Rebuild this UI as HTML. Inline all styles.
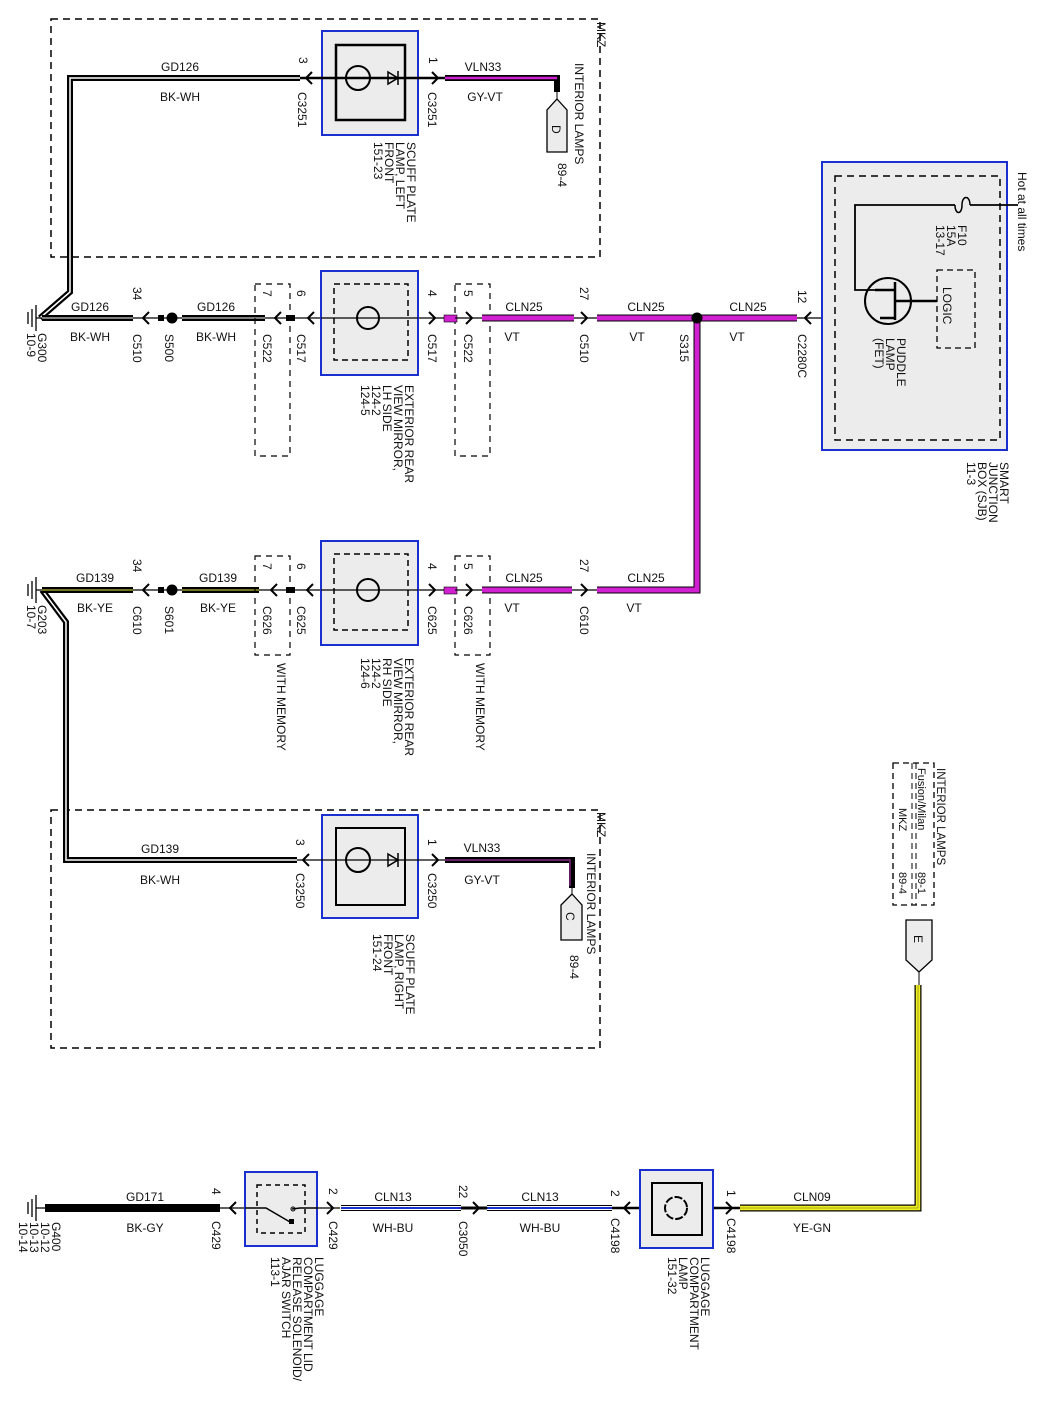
<!DOCTYPE html>
<html><head><meta charset="utf-8"><style>
html,body{margin:0;padding:0;background:#fff}
svg{display:block}
text{font-family:"Liberation Sans",sans-serif;font-size:12px;fill:#111}
</style></head><body>
<svg width="1039" height="1415" viewBox="0 0 1039 1415" xmlns="http://www.w3.org/2000/svg">
<defs>
<g id="al"><path d="M6,-6 L0,0 L6,6" fill="none" stroke="#000" stroke-width="2"/></g>
<g id="ar"><path d="M-6,-6 L0,0 L-6,6" fill="none" stroke="#000" stroke-width="2"/></g>
</defs>

<!-- dashed MKZ boxes -->
<rect x="51" y="19" width="549" height="238" fill="none" stroke="#000" stroke-width="1.5" stroke-dasharray="7,5"/>
<rect x="51" y="810" width="549" height="238" fill="none" stroke="#000" stroke-width="1.5" stroke-dasharray="7,5"/>

<!-- ===== TOP SCUFF LEFT ===== -->
<path d="M300,78 L70,78 L70,292 L40,318" fill="none" stroke="#000" stroke-width="6"/>
<path d="M300,78 L70,78 L70,292 L40,318" fill="none" stroke="#fff" stroke-width="1.5"/>
<rect x="322" y="31" width="96" height="104" fill="#ececec" stroke="#1a2fd0" stroke-width="2"/>
<rect x="336" y="45" width="69" height="75" fill="none" stroke="#000" stroke-width="2.5"/>
<line x1="300" y1="78" x2="445" y2="78" stroke="#000" stroke-width="2.5"/>
<circle cx="358" cy="78" r="12" fill="none" stroke="#000" stroke-width="2"/>
<path d="M388,72 L398,78 L388,84 Z M398,71 L398,85" fill="none" stroke="#000" stroke-width="1.5"/>
<use href="#al" x="306" y="78"/><use href="#ar" x="438" y="78"/>
<path d="M445,78 L557,78 L557,92" fill="none" stroke="#000" stroke-width="6"/>
<path d="M445,78 L557,78" stroke="#d020d0" stroke-width="2.5"/>
<line x1="557" y1="92" x2="557" y2="100" stroke="#000" stroke-width="1"/>
<path d="M557,99 L567,110 L567,152 L547,152 L547,110 Z" fill="#ececec" stroke="#000" stroke-width="1.3"/>
<text transform="translate(552,125) rotate(90)">D</text>
<text x="483" y="71" text-anchor="middle">VLN33</text>
<text x="485" y="101" text-anchor="middle">GY-VT</text>
<text x="180" y="71" text-anchor="middle">GD126</text>
<text x="180" y="101" text-anchor="middle">BK-WH</text>
<text transform="translate(299,57) rotate(90)">3</text>
<text transform="translate(298,92) rotate(90)">C3251</text>
<text transform="translate(429,57) rotate(90)">1</text>
<text transform="translate(428,92) rotate(90)">C3251</text>
<text transform="translate(407,142) rotate(90)"><tspan x="0" y="0">SCUFF PLATE</tspan><tspan x="0" y="11">LAMP, LEFT</tspan><tspan x="0" y="22">FRONT</tspan><tspan x="0" y="33">151-23</tspan></text>
<text transform="translate(575,63) rotate(90)">INTERIOR LAMPS</text>
<text transform="translate(558,163) rotate(90)">89-4</text>
<text transform="translate(597,22) rotate(90)">MKZ</text>

<!-- ===== ROW 1 (y=318) ===== -->
<path d="M28,312 L28,324 M32,309 L32,327 M36,305 L36,331 M36,318 L42,318" stroke="#000" stroke-width="1.3" fill="none"/>
<line x1="42" y1="318" x2="133" y2="318" stroke="#000" stroke-width="6"/>
<line x1="42" y1="318" x2="133" y2="318" stroke="#fff" stroke-width="1"/>
<line x1="133" y1="318" x2="182" y2="318" stroke="#000" stroke-width="1.3"/>
<use href="#al" x="143" y="318"/>
<rect x="158" y="315" width="6" height="6" fill="#000"/>
<circle cx="172" cy="318" r="5.5" fill="#000"/>
<line x1="182" y1="318" x2="265" y2="318" stroke="#000" stroke-width="6"/>
<line x1="182" y1="318" x2="265" y2="318" stroke="#fff" stroke-width="1"/>
<rect x="255" y="284" width="35" height="172" fill="none" stroke="#000" stroke-width="1.2" stroke-dasharray="6,5"/>
<rect x="455" y="284" width="35" height="172" fill="none" stroke="#000" stroke-width="1.2" stroke-dasharray="6,5"/>
<line x1="265" y1="318" x2="445" y2="318" stroke="#000" stroke-width="1.3"/>
<use href="#al" x="275" y="318"/>
<rect x="286" y="315" width="9" height="6" fill="#000"/>
<use href="#al" x="308" y="318"/>
<rect x="321" y="271" width="97" height="104" fill="#ececec" stroke="#1a2fd0" stroke-width="2"/>
<rect x="334" y="284" width="74" height="76" fill="none" stroke="#000" stroke-width="1.5" stroke-dasharray="6,4"/>
<line x1="321" y1="318" x2="418" y2="318" stroke="#000" stroke-width="1.3"/>
<circle cx="368" cy="318" r="11" fill="none" stroke="#000" stroke-width="2"/>
<use href="#ar" x="435" y="318"/>
<rect x="444" y="315" width="13" height="7" fill="#d020d0" stroke="#000" stroke-width="0.6"/>
<line x1="455" y1="318" x2="482" y2="318" stroke="#000" stroke-width="1.3"/>
<use href="#ar" x="472" y="318"/>
<line x1="482" y1="318" x2="574" y2="318" stroke="#000" stroke-width="7"/>
<line x1="482" y1="318" x2="574" y2="318" stroke="#d020d0" stroke-width="5"/>
<line x1="574" y1="318" x2="597" y2="318" stroke="#000" stroke-width="1.3"/>
<use href="#ar" x="587" y="318"/>
<path d="M597,318 L697,318 L697,590 L597,590" fill="none" stroke="#000" stroke-width="7"/>
<path d="M597,318 L697,318 L697,590 L597,590" fill="none" stroke="#d020d0" stroke-width="5"/>
<line x1="697" y1="318" x2="797" y2="318" stroke="#000" stroke-width="7"/>
<line x1="697" y1="318" x2="797" y2="318" stroke="#d020d0" stroke-width="5"/>
<circle cx="697" cy="318" r="5.5" fill="#000"/>
<line x1="797" y1="318" x2="880" y2="318" stroke="#000" stroke-width="1.3"/>
<use href="#al" x="805" y="318"/>
<text x="90" y="311" text-anchor="middle">GD126</text>
<text x="90" y="341" text-anchor="middle">BK-WH</text>
<text x="216" y="311" text-anchor="middle">GD126</text>
<text x="216" y="341" text-anchor="middle">BK-WH</text>
<text x="524" y="311" text-anchor="middle">CLN25</text>
<text x="512" y="341" text-anchor="middle">VT</text>
<text x="646" y="311" text-anchor="middle">CLN25</text>
<text x="637" y="341" text-anchor="middle">VT</text>
<text x="748" y="311" text-anchor="middle">CLN25</text>
<text x="737" y="341" text-anchor="middle">VT</text>
<text transform="translate(38,333) rotate(90)"><tspan x="0" y="0">G300</tspan><tspan x="0" y="11">10-9</tspan></text>
<text transform="translate(133,287) rotate(90)">34</text>
<text transform="translate(133,334) rotate(90)">C510</text>
<text transform="translate(165,334) rotate(90)">S500</text>
<text transform="translate(263,290) rotate(90)">7</text>
<text transform="translate(263,334) rotate(90)">C522</text>
<text transform="translate(297,290) rotate(90)">6</text>
<text transform="translate(297,334) rotate(90)">C517</text>
<text transform="translate(405,385) rotate(90)"><tspan x="0" y="0">EXTERIOR REAR</tspan><tspan x="0" y="11">VIEW MIRROR,</tspan><tspan x="0" y="22">LH SIDE</tspan><tspan x="0" y="33">124-2</tspan><tspan x="0" y="44">124-5</tspan></text>
<text transform="translate(428,290) rotate(90)">4</text>
<text transform="translate(428,334) rotate(90)">C517</text>
<text transform="translate(464,290) rotate(90)">5</text>
<text transform="translate(464,334) rotate(90)">C522</text>
<text transform="translate(580,287) rotate(90)">27</text>
<text transform="translate(580,334) rotate(90)">C510</text>
<text transform="translate(680,334) rotate(90)">S315</text>
<text transform="translate(798,290) rotate(90)">12</text>
<text transform="translate(798,334) rotate(90)">C2280C</text>

<!-- ===== SJB ===== -->
<rect x="822" y="162" width="185" height="288" fill="#ececec" stroke="#1a2fd0" stroke-width="2"/>
<rect x="835" y="176" width="165" height="264" fill="none" stroke="#000" stroke-width="1.5" stroke-dasharray="7,5"/>
<path d="M1018,205 L970,205 M955,205 L855,205 L855,290 L875,290" fill="none" stroke="#000" stroke-width="1.8"/>
<path d="M970,205 C970,195 962,195 962,205 C962,215 955,215 955,205" fill="none" stroke="#000" stroke-width="1.5"/>
<circle cx="888" cy="301" r="23" fill="none" stroke="#000" stroke-width="2"/>
<path d="M875,290 L895,290 M880,318 L895,318 M895,282 L895,320 M895,301 L937,301" fill="none" stroke="#000" stroke-width="2.5"/>
<rect x="937" y="270" width="38" height="78" fill="none" stroke="#000" stroke-width="1.3" stroke-dasharray="6,4"/>
<text transform="translate(943,287) rotate(90)">LOGIC</text>
<text transform="translate(958,225) rotate(90)"><tspan x="0" y="0">F10</tspan><tspan x="0" y="11">15A</tspan><tspan x="0" y="22">13-17</tspan></text>
<text transform="translate(897,338) rotate(90)"><tspan x="0" y="0">PUDDLE</tspan><tspan x="0" y="11">LAMP</tspan><tspan x="0" y="22">(FET)</tspan></text>
<text transform="translate(1018,172) rotate(90)">Hot at all times</text>
<text transform="translate(1000,462) rotate(90)"><tspan x="0" y="0">SMART</tspan><tspan x="0" y="11">JUNCTION</tspan><tspan x="0" y="22">BOX (SJB)</tspan><tspan x="0" y="33">11-3</tspan></text>

<!-- ===== ROW 2 (y=590) ===== -->
<path d="M28,584 L28,596 M32,581 L32,599 M36,577 L36,603 M36,590 L42,590" stroke="#000" stroke-width="1.3" fill="none"/>
<path d="M42,590 L66,622 L66,860 L297,860" fill="none" stroke="#000" stroke-width="6"/>
<path d="M42,590 L66,622 L66,860 L297,860" fill="none" stroke="#fff" stroke-width="1.5"/>
<line x1="42" y1="590" x2="133" y2="590" stroke="#000" stroke-width="6"/>
<line x1="42" y1="590" x2="133" y2="590" stroke="#e8e840" stroke-width="1"/>
<line x1="133" y1="590" x2="182" y2="590" stroke="#000" stroke-width="1.3"/>
<use href="#al" x="143" y="590"/>
<rect x="158" y="587" width="6" height="6" fill="#000"/>
<circle cx="172" cy="590" r="5.5" fill="#000"/>
<line x1="182" y1="590" x2="259" y2="590" stroke="#000" stroke-width="6"/>
<line x1="182" y1="590" x2="259" y2="590" stroke="#e8e840" stroke-width="1"/>
<rect x="255" y="556" width="35" height="99" fill="none" stroke="#000" stroke-width="1.2" stroke-dasharray="6,5"/>
<rect x="455" y="556" width="35" height="99" fill="none" stroke="#000" stroke-width="1.2" stroke-dasharray="6,5"/>
<line x1="259" y1="590" x2="445" y2="590" stroke="#000" stroke-width="1.3"/>
<use href="#al" x="271" y="590"/>
<rect x="286" y="587" width="9" height="6" fill="#000"/>
<use href="#al" x="307" y="590"/>
<rect x="321" y="541" width="97" height="104" fill="#ececec" stroke="#1a2fd0" stroke-width="2"/>
<rect x="334" y="554" width="74" height="76" fill="none" stroke="#000" stroke-width="1.5" stroke-dasharray="6,4"/>
<line x1="321" y1="590" x2="418" y2="590" stroke="#000" stroke-width="1.3"/>
<circle cx="368" cy="590" r="11" fill="none" stroke="#000" stroke-width="2"/>
<use href="#ar" x="435" y="590"/>
<rect x="444" y="587" width="13" height="7" fill="#d020d0" stroke="#000" stroke-width="0.6"/>
<line x1="455" y1="590" x2="482" y2="590" stroke="#000" stroke-width="1.3"/>
<use href="#ar" x="472" y="590"/>
<line x1="482" y1="590" x2="572" y2="590" stroke="#000" stroke-width="7"/>
<line x1="482" y1="590" x2="572" y2="590" stroke="#d020d0" stroke-width="5"/>
<line x1="572" y1="590" x2="597" y2="590" stroke="#000" stroke-width="1.3"/>
<use href="#ar" x="587" y="590"/>
<text x="95" y="582" text-anchor="middle">GD139</text>
<text x="95" y="612" text-anchor="middle">BK-YE</text>
<text x="218" y="582" text-anchor="middle">GD139</text>
<text x="218" y="612" text-anchor="middle">BK-YE</text>
<text x="524" y="582" text-anchor="middle">CLN25</text>
<text x="512" y="612" text-anchor="middle">VT</text>
<text x="646" y="582" text-anchor="middle">CLN25</text>
<text x="634" y="612" text-anchor="middle">VT</text>
<text transform="translate(38,605) rotate(90)"><tspan x="0" y="0">G203</tspan><tspan x="0" y="11">10-7</tspan></text>
<text transform="translate(133,559) rotate(90)">34</text>
<text transform="translate(133,606) rotate(90)">C610</text>
<text transform="translate(165,606) rotate(90)">S601</text>
<text transform="translate(263,563) rotate(90)">7</text>
<text transform="translate(263,606) rotate(90)">C626</text>
<text transform="translate(297,563) rotate(90)">6</text>
<text transform="translate(297,606) rotate(90)">C625</text>
<text transform="translate(405,658) rotate(90)"><tspan x="0" y="0">EXTERIOR REAR</tspan><tspan x="0" y="11">VIEW MIRROR,</tspan><tspan x="0" y="22">RH SIDE</tspan><tspan x="0" y="33">124-2</tspan><tspan x="0" y="44">124-6</tspan></text>
<text transform="translate(428,563) rotate(90)">4</text>
<text transform="translate(428,606) rotate(90)">C625</text>
<text transform="translate(464,563) rotate(90)">5</text>
<text transform="translate(464,606) rotate(90)">C626</text>
<text transform="translate(580,559) rotate(90)">27</text>
<text transform="translate(580,606) rotate(90)">C610</text>
<text transform="translate(277,663) rotate(90)">WITH MEMORY</text>
<text transform="translate(476,663) rotate(90)">WITH MEMORY</text>

<!-- ===== BOTTOM SCUFF RIGHT ===== -->
<rect x="322" y="815" width="96" height="103" fill="#ececec" stroke="#1a2fd0" stroke-width="2"/>
<rect x="336" y="828" width="69" height="77" fill="none" stroke="#000" stroke-width="2"/>
<line x1="297" y1="860" x2="445" y2="860" stroke="#000" stroke-width="1.3"/>
<circle cx="358" cy="860" r="12" fill="none" stroke="#000" stroke-width="2"/>
<path d="M388,854 L398,860 L388,866 Z M398,853 L398,867" fill="none" stroke="#000" stroke-width="1.5"/>
<use href="#al" x="303" y="860"/><use href="#ar" x="438" y="860"/>
<path d="M445,860 L572,860 L572,888" fill="none" stroke="#000" stroke-width="6"/>
<path d="M445,860 L570,860 L570,886" fill="none" stroke="#a030a0" stroke-width="1.2"/>
<line x1="572" y1="888" x2="572" y2="895" stroke="#000" stroke-width="1"/>
<path d="M572,894 L582,905 L582,940 L561,940 L561,905 Z" fill="#ececec" stroke="#000" stroke-width="1.3"/>
<text transform="translate(566,912) rotate(90)">C</text>
<text x="160" y="853" text-anchor="middle">GD139</text>
<text x="160" y="884" text-anchor="middle">BK-WH</text>
<text x="482" y="852" text-anchor="middle">VLN33</text>
<text x="482" y="884" text-anchor="middle">GY-VT</text>
<text transform="translate(296,839) rotate(90)">3</text>
<text transform="translate(296,873) rotate(90)">C3250</text>
<text transform="translate(428,839) rotate(90)">1</text>
<text transform="translate(428,873) rotate(90)">C3250</text>
<text transform="translate(406,934) rotate(90)"><tspan x="0" y="0">SCUFF PLATE</tspan><tspan x="0" y="11">LAMP, RIGHT</tspan><tspan x="0" y="22">FRONT</tspan><tspan x="0" y="33">151-24</tspan></text>
<text transform="translate(587,853) rotate(90)">INTERIOR LAMPS</text>
<text transform="translate(570,955) rotate(90)">89-4</text>
<text transform="translate(597,812) rotate(90)">MKZ</text>

<!-- ===== LEGEND & E ===== -->
<rect x="893" y="763" width="41" height="142" fill="none" stroke="#000" stroke-width="1.3" stroke-dasharray="6,4"/>
<line x1="912" y1="763" x2="912" y2="905" stroke="#000" stroke-width="1" stroke-dasharray="6,4"/>
<line x1="916" y1="763" x2="916" y2="905" stroke="#000" stroke-width="1" stroke-dasharray="6,4"/>
<text transform="translate(937,768) rotate(90)" style="font-size:11.5px">INTERIOR LAMPS</text>
<text transform="translate(918,768) rotate(90)" style="font-size:11px">Fusion/Milan</text>
<text transform="translate(918,872) rotate(90)" style="font-size:11px">89-1</text>
<text transform="translate(899,808) rotate(90)" style="font-size:11px">MKZ</text>
<text transform="translate(899,872) rotate(90)" style="font-size:11px">89-4</text>
<path d="M906,920 L932,920 L932,960 L919,972 L906,960 Z" fill="#ececec" stroke="#000" stroke-width="1.3"/>
<text transform="translate(914,935) rotate(90)">E</text>
<line x1="919" y1="972" x2="919" y2="985" stroke="#000" stroke-width="1"/>
<path d="M918,985 L918,1208 L740,1208" fill="none" stroke="#000" stroke-width="7"/>
<path d="M918,985 L918,1208 L740,1208" fill="none" stroke="#f0f020" stroke-width="4.5"/>
<path d="M918,985 L918,1208 L740,1208" fill="none" stroke="#909020" stroke-width="0.8"/>

<!-- ===== BOTTOM ROW (y=1208) ===== -->
<path d="M28,1202 L28,1214 M32,1199 L32,1217 M36,1195 L36,1221 M36,1208 L45,1208" stroke="#000" stroke-width="1.3" fill="none"/>
<line x1="45" y1="1208" x2="220" y2="1208" stroke="#000" stroke-width="8"/>
<line x1="220" y1="1208" x2="340" y2="1208" stroke="#000" stroke-width="1.3"/>
<use href="#al" x="230" y="1208"/>
<rect x="245" y="1172" width="72" height="74" fill="#ececec" stroke="#1a2fd0" stroke-width="2"/>
<rect x="257" y="1185" width="48" height="48" fill="none" stroke="#000" stroke-width="1.5" stroke-dasharray="5,4"/>
<path d="M245,1208 L266,1208 L290,1222 M292,1209 L300,1208 L318,1208" fill="none" stroke="#000" stroke-width="1.5"/>
<circle cx="293" cy="1209" r="2" fill="none" stroke="#000"/>
<rect x="289" y="1219" width="5" height="5" fill="#000"/>
<use href="#ar" x="333" y="1208"/>
<line x1="341" y1="1208" x2="461" y2="1208" stroke="#000" stroke-width="6"/>
<line x1="341" y1="1208" x2="461" y2="1208" stroke="#fff" stroke-width="4"/>
<line x1="341" y1="1208" x2="461" y2="1208" stroke="#1a2fd0" stroke-width="2"/>
<line x1="461" y1="1208" x2="487" y2="1208" stroke="#000" stroke-width="3"/>
<use href="#ar" x="479" y="1208"/>
<line x1="487" y1="1208" x2="612" y2="1208" stroke="#000" stroke-width="6"/>
<line x1="487" y1="1208" x2="612" y2="1208" stroke="#fff" stroke-width="4"/>
<line x1="487" y1="1208" x2="612" y2="1208" stroke="#1a2fd0" stroke-width="2"/>
<line x1="612" y1="1208" x2="740" y2="1208" stroke="#000" stroke-width="2.5"/>
<use href="#al" x="624" y="1208"/>
<rect x="640" y="1170" width="73" height="78" fill="#ececec" stroke="#1a2fd0" stroke-width="2"/>
<rect x="652" y="1183" width="50" height="52" fill="none" stroke="#000" stroke-width="2"/>
<circle cx="676" cy="1208" r="11" fill="none" stroke="#000" stroke-width="2" stroke-dasharray="8,2"/>
<use href="#ar" x="732" y="1208"/>
<text x="145" y="1201" text-anchor="middle">GD171</text>
<text x="145" y="1232" text-anchor="middle">BK-GY</text>
<text x="393" y="1201" text-anchor="middle">CLN13</text>
<text x="393" y="1232" text-anchor="middle">WH-BU</text>
<text x="540" y="1201" text-anchor="middle">CLN13</text>
<text x="540" y="1232" text-anchor="middle">WH-BU</text>
<text x="812" y="1201" text-anchor="middle">CLN09</text>
<text x="812" y="1232" text-anchor="middle">YE-GN</text>
<text transform="translate(52,1222) rotate(90)"><tspan x="0" y="0">G400</tspan><tspan x="0" y="11">10-12</tspan><tspan x="0" y="22">10-13</tspan><tspan x="0" y="33">10-14</tspan></text>
<text transform="translate(212,1188) rotate(90)">4</text>
<text transform="translate(212,1221) rotate(90)">C429</text>
<text transform="translate(329,1188) rotate(90)">2</text>
<text transform="translate(329,1221) rotate(90)">C429</text>
<text transform="translate(315,1257) rotate(90)"><tspan x="0" y="0">LUGGAGE</tspan><tspan x="0" y="11">COMPARTMENT LID</tspan><tspan x="0" y="22">RELEASE SOLENOID/</tspan><tspan x="0" y="33">AJAR SWITCH</tspan><tspan x="0" y="44">113-1</tspan></text>
<text transform="translate(459,1185) rotate(90)">22</text>
<text transform="translate(459,1221) rotate(90)">C3050</text>
<text transform="translate(611,1190) rotate(90)">2</text>
<text transform="translate(611,1218) rotate(90)">C4198</text>
<text transform="translate(727,1190) rotate(90)">1</text>
<text transform="translate(727,1218) rotate(90)">C4198</text>
<text transform="translate(701,1257) rotate(90)"><tspan x="0" y="0">LUGGAGE</tspan><tspan x="0" y="11">COMPARTMENT</tspan><tspan x="0" y="22">LAMP</tspan><tspan x="0" y="33">151-32</tspan></text>
</svg>
</body></html>
